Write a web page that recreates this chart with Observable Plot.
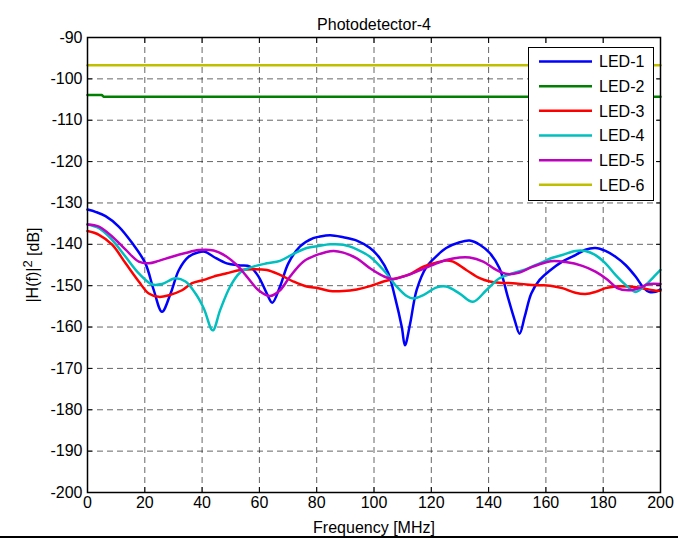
<!DOCTYPE html>
<html><head><meta charset="utf-8">
<script src="https://cdn.jsdelivr.net/npm/d3@7"></script>
<script src="https://cdn.jsdelivr.net/npm/@observablehq/plot@0.6"></script>
<style>
body{margin:0;background:#fff;}
#wrap{position:relative;width:678px;height:539px;font-family:"Liberation Sans",Arial,sans-serif;overflow:hidden;}
#legend{position:absolute;left:528px;top:47px;width:124px;height:152px;border:1px solid #000;background:#fff;}
#bottomline{position:absolute;left:0;top:536px;width:678px;height:2px;background:#000;}
</style></head><body><div id="wrap"></div>
<script>
const title = "Photodetector-4";
const xLabel = "Frequency [MHz]";
const yLabelParts = ["|H(f)|", "2", " [dB]"];
const xTicks = [0,20,40,60,80,100,120,140,160,180,200];
const yTicks = [-90,-100,-110,-120,-130,-140,-150,-160,-170,-180,-190,-200];
const seriesNames = ["LED-1","LED-2","LED-3","LED-4","LED-5","LED-6"];
const seriesColors = ["#0000ff","#008000","#ff0000","#00bfbf","#bf00bf","#bfbf00"];

const led1 = [[0,-131.6],[3,-132.2],[6.3,-133.2],[10.9,-135.7],[15.6,-139.7],[20.2,-144.6],[23.1,-151],[26,-156.3],[29,-151.9],[31.9,-146.2],[35.3,-143],[38.8,-141.9],[41,-141.8],[44,-143],[48.6,-144.6],[53.3,-145.1],[56.7,-145.4],[59.7,-147.8],[62.6,-151.9],[64.5,-154.1],[67.2,-150.2],[70.1,-144.6],[74.2,-140.5],[78.8,-138.5],[80.6,-138.2],[84.7,-137.8],[89.3,-138.3],[94,-139.1],[98.6,-140.9],[102.1,-143.4],[105,-147],[107.3,-152.7],[109.7,-160],[110.8,-164.4],[112.6,-159.2],[114.9,-151],[118.4,-145.4],[121.9,-142.8],[125.2,-140.9],[129.9,-139.5],[133.4,-139.1],[136.9,-140.1],[140.4,-142.1],[143.8,-145.8],[146.7,-152.7],[149.1,-158.3],[150.8,-161.6],[152.6,-157.5],[154.9,-151.9],[157.8,-148.6],[161.3,-146.4],[165.7,-144.2],[170.3,-142.6],[173.8,-141.3],[177.3,-140.9],[180.8,-141.6],[184.3,-143],[187.8,-145],[191.3,-147.8],[194.2,-150.6],[196,-151.5],[198.3,-151.5],[200,-150.9]];
const led2 = [[0,-103.9],[5,-103.9],[5.6,-104.3],[200,-104.3]];
const led3 = [[0,-136.8],[4,-137.7],[8.6,-140.1],[13.3,-144.6],[17.9,-149],[21.4,-151.9],[24.9,-152.7],[28.4,-152.3],[33,-151.1],[36.5,-149.4],[40.6,-148.6],[44,-147.8],[48.6,-147],[53.3,-146.2],[57.9,-146],[62.6,-146.2],[67.2,-147.4],[71.9,-149],[76.5,-150.2],[80.6,-150.6],[84.7,-151.3],[89.3,-151.3],[94,-150.9],[98.6,-150.1],[103.3,-149],[107.9,-148.2],[112.6,-147.2],[117.2,-145.4],[121.9,-144.4],[125.2,-143.9],[127.6,-144.2],[132.2,-146.2],[136.9,-148.2],[140.4,-149],[143.8,-149.3],[148.5,-149.4],[153.1,-149.7],[157.8,-149.9],[161.5,-150],[165.7,-150.6],[170.3,-151.7],[173.8,-152],[177.3,-151.5],[180.8,-150.6],[184.3,-150.2],[188.9,-150.2],[193.6,-150.6],[198.3,-151.2],[200,-151.2]];
const led4 = [[0,-135.2],[4,-136.1],[8.6,-138.9],[13.3,-143],[17.9,-147],[22.6,-149.7],[26,-149.6],[30.7,-148.2],[34.2,-149],[37.7,-151.9],[40.6,-155.5],[43.7,-160.8],[46.3,-155.9],[49.8,-150.2],[53.3,-146.8],[57.9,-145.4],[62.6,-144.6],[67.2,-144],[71.9,-142.3],[76.5,-140.9],[80.6,-140.4],[84.7,-140],[89.3,-140.1],[94,-141.2],[98.6,-143],[103.3,-146.2],[107.9,-150.2],[111.4,-152.5],[113.7,-153.1],[117.2,-152.3],[121.9,-150.4],[125.2,-150.2],[129.9,-151.9],[134.5,-153.9],[139.2,-151.1],[143.8,-148.2],[148.5,-147],[153.1,-146],[157.8,-144.6],[162,-143.3],[165.7,-142.6],[170.3,-141.6],[173.8,-141.6],[177.3,-142.6],[180.8,-144.6],[184.3,-147.4],[187.8,-149.8],[191.3,-151.5],[194.8,-149.8],[198.3,-147.4],[200,-146.2]];
const led5 = [[0,-135.2],[4,-135.7],[8.6,-138.1],[13.3,-141.3],[17.9,-144.2],[21.4,-144.6],[24.9,-144],[29.5,-143],[34.2,-142.1],[38.8,-141.4],[44,-141.5],[48.6,-143],[52.1,-145],[55.6,-147.8],[59.7,-151.1],[63.7,-152.5],[67.2,-151.1],[70.7,-147.8],[75.3,-144.2],[80.3,-142.5],[85.8,-141.6],[89.3,-142],[94,-143.4],[98.6,-145.8],[103.3,-147.7],[106.7,-148.4],[110.2,-147.8],[114.9,-146.6],[121.2,-144.8],[125.2,-143.8],[129.9,-143.2],[133.4,-143.2],[138.1,-144.2],[142.7,-146.2],[146.7,-147.2],[150.8,-146.8],[155.5,-145.4],[161.7,-144.1],[166.9,-144.3],[172.7,-145.2],[177.3,-146.6],[181.4,-148.5],[184.9,-150.6],[188.9,-151.1],[192.4,-150.6],[195.9,-149.6],[200,-149.6]];
const led6 = [[0,-96.7],[200,-96.7]];
const allSeries = [led1, led2, led3, led4, led5, led6];

const FONT = "Liberation Sans, Arial, sans-serif";
const FS = 16;
const gridStyle = {stroke:"#000", strokeOpacity:0.6, strokeDasharray:"6,4", strokeWidth:1};
const lineMarks = allSeries.map((s,i) => Plot.line(s, {
  x: d => d[0], y: d => d[1], stroke: seriesColors[i], strokeWidth: 2.5,
  curve: (s.length > 4 ? "catmull-rom" : "linear")
}));
const yLabelText = yLabelParts.join("");

const chart = Plot.plot({
  width: 678, height: 539,
  marginLeft: 87, marginRight: 18, marginTop: 37, marginBottom: 47,
  style: {fontFamily: FONT, fontSize: FS + "px", color: "#000", background: "#fff"},
  x: {domain: [0, 200]},
  y: {domain: [-200, -90]},
  marks: [
    Plot.gridX(xTicks, gridStyle),
    Plot.gridY(yTicks, gridStyle),
    Plot.axisX(xTicks, {anchor:"bottom", tickSize:0, tickPadding:4, label:null, tickFormat: d => String(d), fontSize:FS}),
    Plot.axisY(yTicks, {anchor:"left", tickSize:0, tickPadding:5, label:null, tickFormat: d => String(d), fontSize:FS}),
    Plot.axisX(xTicks, {anchor:"bottom", tickSize:5, dy:-5, label:null, tickFormat: () => ""}),
    Plot.axisX(xTicks, {anchor:"top", tickSize:5, dy:5, label:null, tickFormat: () => ""}),
    Plot.axisY(yTicks, {anchor:"left", tickSize:5, dx:5, label:null, tickFormat: () => ""}),
    Plot.axisY(yTicks, {anchor:"right", tickSize:5, dx:-5, label:null, tickFormat: () => ""}),
    ...lineMarks,
    Plot.frame({stroke:"#000", strokeWidth:1.5}),
    Plot.text([title], {frameAnchor:"top", dy:-19, fontSize:FS, textAnchor:"middle"}),
    Plot.text([xLabel], {frameAnchor:"bottom", dy:35, fontSize:FS, textAnchor:"middle", lineAnchor:"middle"}),
    Plot.text([yLabelText], {frameAnchor:"left", dx:-55, rotate:-90, fontSize:FS, textAnchor:"middle"})
  ]
});

const wrap = document.getElementById("wrap");
wrap.appendChild(chart);

// superscript in y label
chart.querySelectorAll("text").forEach(t => {
  if (t.textContent === yLabelText) {
    t.textContent = "";
    const ns = "http://www.w3.org/2000/svg";
    const a = document.createElementNS(ns, "tspan"); a.textContent = yLabelParts[0];
    const b = document.createElementNS(ns, "tspan"); b.textContent = yLabelParts[1];
    b.setAttribute("dy", "-0.45em"); b.setAttribute("font-size", "13");
    const c = document.createElementNS(ns, "tspan"); c.textContent = yLabelParts[2];
    c.setAttribute("dy", "0.45em");
    t.appendChild(a); t.appendChild(b); t.appendChild(c);
  }
});

// legend overlay
const legend = document.createElement("div");
legend.id = "legend";
const ns = "http://www.w3.org/2000/svg";
const lsvg = document.createElementNS(ns, "svg");
lsvg.setAttribute("width", 124); lsvg.setAttribute("height", 152);
seriesNames.forEach((name, i) => {
  const cy = 13.5 + i * 24.66;
  const ln = document.createElementNS(ns, "line");
  ln.setAttribute("x1", 10); ln.setAttribute("x2", 63);
  ln.setAttribute("y1", cy); ln.setAttribute("y2", cy);
  ln.setAttribute("stroke", seriesColors[i]); ln.setAttribute("stroke-width", 2.5);
  lsvg.appendChild(ln);
  const tx = document.createElementNS(ns, "text");
  tx.setAttribute("x", 70); tx.setAttribute("y", cy);
  tx.setAttribute("dy", "0.36em");
  tx.setAttribute("font-family", FONT); tx.setAttribute("font-size", 16);
  tx.textContent = name;
  lsvg.appendChild(tx);
});
legend.appendChild(lsvg);
wrap.appendChild(legend);

const bl = document.createElement("div");
bl.id = "bottomline";
wrap.appendChild(bl);
</script></body></html>
